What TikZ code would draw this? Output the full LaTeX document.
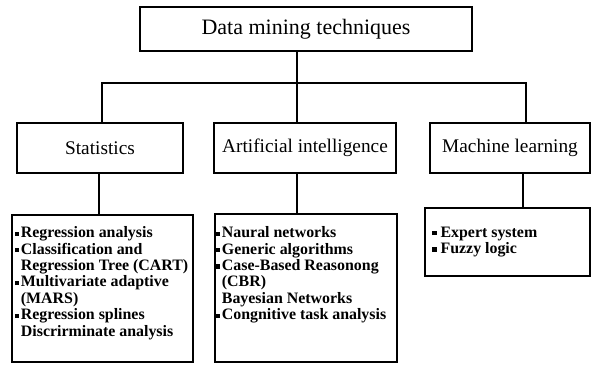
\documentclass[tikz,border=0pt]{standalone}
\usepackage{fontspec}
\setmainfont{Liberation Serif}
\newcommand\sqb{\makebox[0.36em][l]{\rule[0.12em]{0.27em}{0.27em}}}
\newcommand\indt{\hspace*{0.36em}}
\begin{document}
\begin{tikzpicture}[x=1pt,y=-1pt,
  box/.style={draw,line width=2.7pt,rectangle,inner sep=0pt},
  conn/.style={line width=2.7pt},
  head/.style={font=\fontsize{19.3}{22}\selectfont},
  listtext/.style={anchor=north west,inner sep=0pt,align=left,
    font=\fontsize{15.9}{16.4}\selectfont\bfseries}]
\useasboundingbox (0,0) rectangle (591,364);
% top box
\node[box,minimum width=332pt,minimum height=44pt,font=\fontsize{22}{24}\selectfont] (title) at (306,29) {Data mining techniques};
% second row
\node[box,head,minimum width=166pt,minimum height=50pt] (stat) at (100,148) {Statistics};
\node[box,head,minimum width=182pt,minimum height=50pt] (ai) at (305,148) {Artificial intelligence};
\node[box,head,minimum width=160pt,minimum height=50pt] (ml) at (510,148) {Machine learning};
% list boxes
\node[box,minimum width=181pt,minimum height=147pt] (statl) at (102.5,288.5) {};
\node[box,minimum width=182pt,minimum height=148pt] (ail) at (306,288) {};
\node[box,minimum width=165pt,minimum height=68pt] (mll) at (507.5,242) {};
% junction coordinates
\coordinate (jc) at (297,83);
\coordinate (jl) at (102,83);
\coordinate (jr) at (526,83);
\coordinate (ja) at (297,0);
\coordinate (js) at (99,0);
\coordinate (jm) at (523,0);
% connectors
\draw[conn] (jc |- title.south) -- (jc |- ai.north);
\draw[conn] (jl |- stat.north) -- (jl) -- (jr) -- (jr |- ml.north);
\draw[conn] (js |- stat.south) -- (js |- statl.north);
\draw[conn] (ja |- ai.south) -- (ja |- ail.north);
\draw[conn] (jm |- ml.south) -- (jm |- mll.north);
% list texts
\node[listtext] (statt) at (15,226.5) {\sqb Regression analysis\\
\sqb Classification and\\
\indt Regression Tree (CART)\\
\sqb Multivariate adaptive\\
\indt (MARS)\\
\sqb Regression splines\\
\indt Discrirminate analysis};
\node[listtext] (ait) at (216,226.5) {\sqb Naural networks\\
\sqb Generic algorithms\\
\sqb Case-Based Reasonong\\
\indt (CBR)\\
\indt Bayesian Networks\\
\sqb Congnitive task analysis};
\node[listtext] (mlt) at (432,226.5) {\sqb\,Expert system\\
\sqb\,Fuzzy logic};
\end{tikzpicture}
\end{document}
